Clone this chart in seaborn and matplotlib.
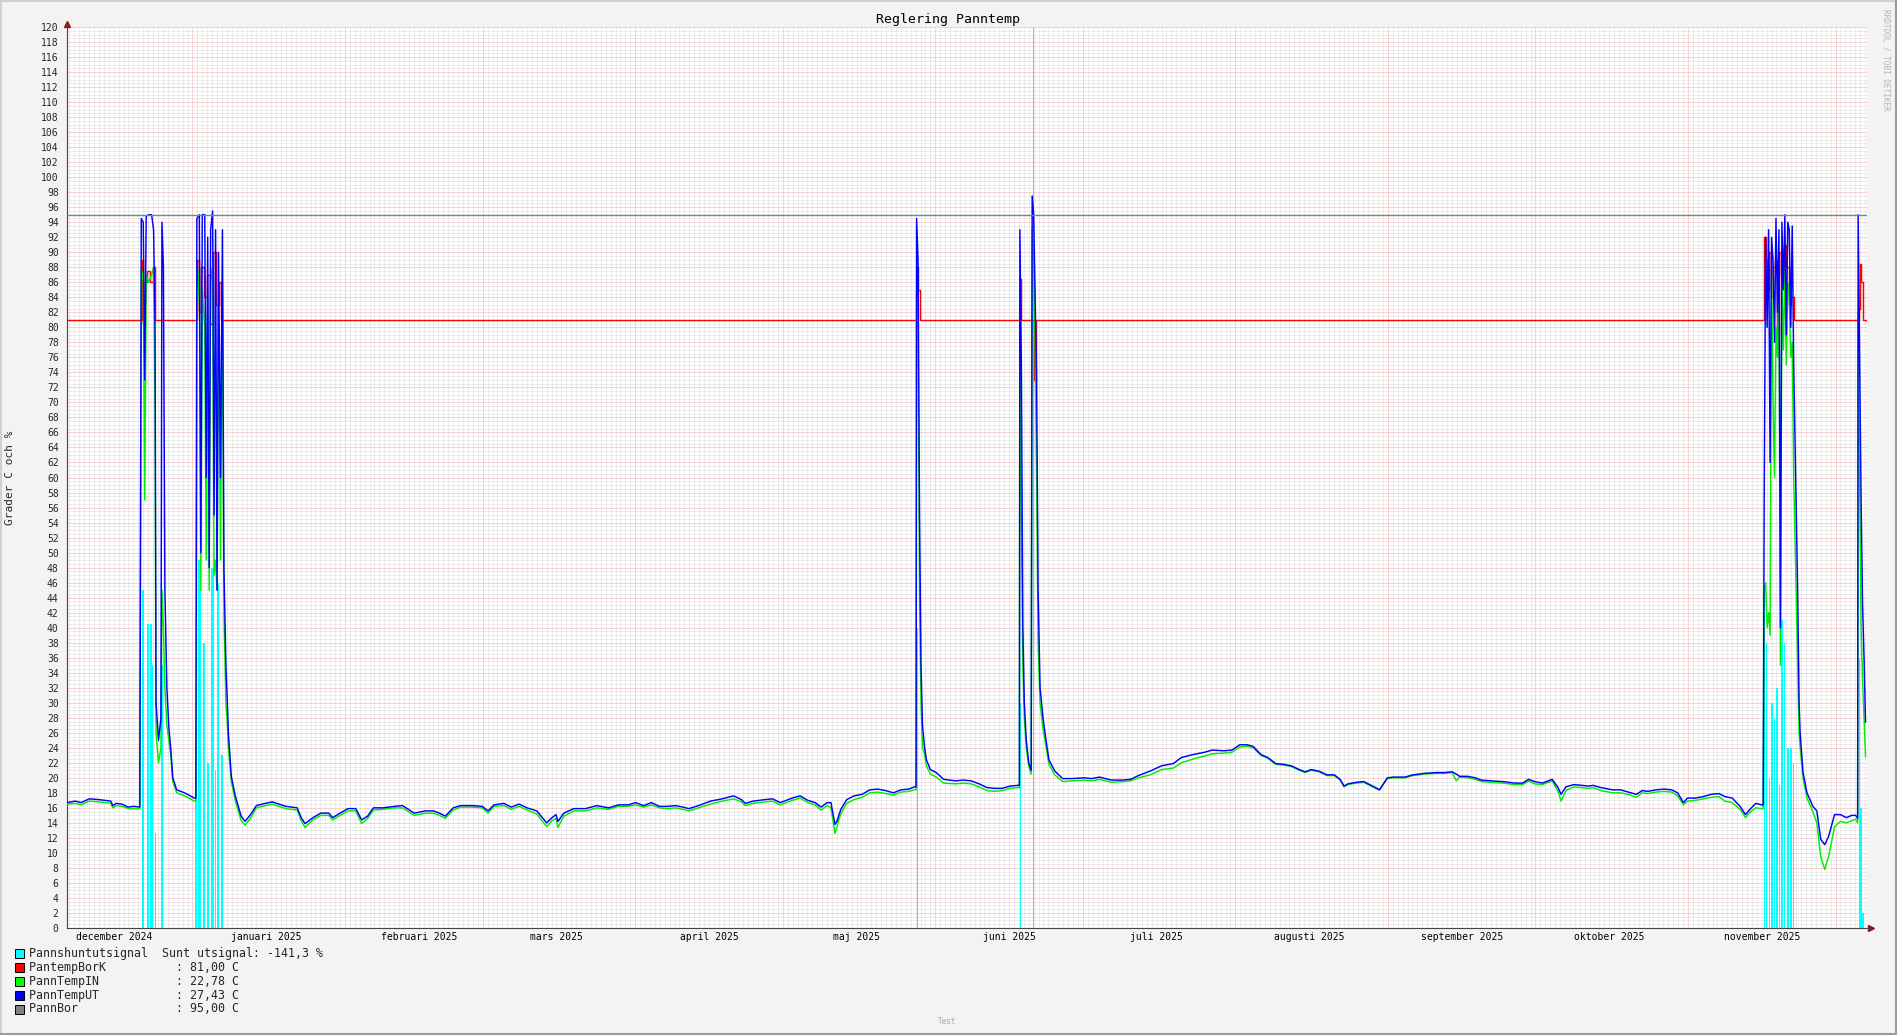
import matplotlib
matplotlib.use("Agg")
import matplotlib.pyplot as plt
import matplotlib.dates as mdates
from matplotlib.patches import Rectangle
from matplotlib.lines import Line2D
import seaborn as sns
import pandas as pd

# Reglering Panntemp - ett år, dagar räknas från start_tid
start_tid = pd.Timestamp("2024-12-06 12:00")
slut_dag = 365.9

temp_days = [
    0, 1.7, 2.9, 4.5, 6.5, 8.9, 9.3, 10.0, 11.2, 12.4, 13.6, 14.8,
    15.1, 15.5, 15.8, 16.1, 16.6, 17.2, 17.6, 17.9, 18.1, 18.6, 19.1, 19.3, 19.6, 19.9, 20.3,
    20.7, 21.1, 21.5, 22.3, 23.9, 25.9,
    26.2, 26.4, 26.9, 27.2, 27.5, 28.0, 28.3, 28.6, 28.9, 29.2, 29.6, 29.9, 30.2, 30.5, 30.8,
    31.2, 31.6, 31.9, 32.3, 32.6,
    32.8, 33.4, 34.2, 35.4, 36.2, 37.3, 38.5, 39.7, 41.7, 44.5, 46.8, 47.6, 48.4, 50.0, 51.6,
    53.2, 54.0, 55.5, 57.1, 58.7, 59.9, 61.1, 62.3, 64.2, 66.6, 68.2, 69.4, 70.6, 72.9, 74.5,
    75.7, 76.9, 78.5, 80.0, 82.4, 84.4, 85.6, 86.8, 88.8, 90.3, 91.9, 93.5, 95.5, 97.5, 98.6,
    99.4, 99.8, 101.0, 103.0, 105.4, 107.7, 110.1, 112.1, 114.1, 115.6, 117.2, 118.8, 120.4,
    122.1, 123.7, 125.2, 126.4, 128.4, 130.8, 133.2, 135.5, 137.1, 137.9, 139.5, 141.9, 143.4,
    145.0, 147.4, 149.0, 150.6, 152.1, 153.3, 154.5, 155.3, 156.1, 156.5, 157.3, 158.5, 160.0,
    161.6, 163.2, 164.8, 166.4, 168.0, 169.5, 171.1, 172.3,
    172.6, 172.7, 173.0, 173.3, 173.6, 173.9, 174.3, 174.7, 175.5, 176.7, 178.2, 180.6, 182.2,
    183.8, 185.4, 187.0, 188.5, 190.1, 191.7, 193.3,
    193.6, 193.7, 194.0, 194.3, 194.6, 195.0, 195.5, 196.0, 196.2, 196.5, 196.8, 197.1, 197.4,
    197.8, 198.4, 198.8, 199.6, 200.8, 202.4, 204.3, 206.7, 208.3, 209.9, 212.3, 214.6, 216.2,
    217.8, 220.2, 222.5, 224.9, 226.5, 228.9, 231.2, 232.8, 235.2, 236.8, 238.4, 239.9, 241.1,
    242.7, 244.1, 245.7, 247.3, 248.9, 250.5, 251.7, 252.9, 254.5, 256.1, 257.6, 258.8, 259.6,
    260.4, 262.0, 263.6, 264.8, 266.0, 266.8, 268.4, 269.6, 272.0, 273.6, 276.0, 278.4, 280.0,
    281.6, 282.4, 283.1, 284.7, 286.3, 287.5, 289.5, 291.9, 294.3, 295.9, 297.1, 298.3, 299.9,
    301.9, 303.1, 303.7, 304.7, 306.3, 307.9, 309.4, 310.2, 311.8, 314.2, 315.8, 317.4, 319.0,
    320.2, 321.4, 323.0, 324.6, 326.2, 327.4, 328.6, 329.4, 331.0, 332.6, 334.2, 335.8, 337.0,
    338.5, 340.1, 341.2, 342.1, 343.3, 344.5,
    344.8, 345.0, 345.3, 345.6, 345.9, 346.2, 346.5, 346.8, 347.1, 347.4, 347.7, 348.0, 348.3,
    348.6, 348.9, 349.2, 349.5, 349.8, 350.1, 350.4, 350.7, 351.0, 351.4, 351.8, 352.1,
    352.3, 352.9, 353.7, 354.9, 355.7, 356.5, 357.3, 358.1, 359.3, 360.5, 361.7, 362.8, 363.6,
    364.0, 364.1, 364.4, 364.7, 365.0, 365.3, 365.6,
]

pann_temp_ut = [
    16.7, 16.9, 16.7, 17.2, 17.1, 16.9, 16.3, 16.6, 16.5, 16.1, 16.2, 16.1,
    94.5, 94.0, 73.0, 94.8, 95.0, 95.0, 93.0, 80.0, 30.0, 25.0, 28.0, 94.0, 88.0, 45.0, 32.0,
    26.7, 23.8, 20.0, 18.4, 18.0, 17.3,
    17.3, 94.5, 95.0, 50.0, 95.0, 95.0, 60.0, 92.0, 48.0, 93.0, 95.5, 55.0, 93.0, 45.0, 90.0,
    60.0, 93.0, 48.0, 35.0, 30.0,
    26.0, 20.2, 17.6, 14.9, 14.2, 15.1, 16.3, 16.5, 16.8, 16.2, 16.0, 14.7, 13.9, 14.7, 15.3,
    15.3, 14.7, 15.3, 15.9, 15.9, 14.4, 14.9, 16.0, 16.0, 16.2, 16.3, 15.8, 15.3, 15.6, 15.6,
    15.3, 14.9, 16.0, 16.3, 16.3, 16.2, 15.6, 16.4, 16.6, 16.1, 16.5, 16.0, 15.6, 14.0, 14.7,
    15.1, 14.2, 15.3, 15.9, 15.9, 16.3, 16.0, 16.4, 16.4, 16.7, 16.3, 16.7, 16.2,
    16.2, 16.3, 16.1, 15.9, 16.3, 16.9, 17.2, 17.6, 17.1, 16.6, 16.9, 17.1, 17.2,
    16.7, 17.3, 17.6, 17.0, 16.7, 16.1, 16.7, 16.7, 13.8, 14.2, 15.8, 17.1, 17.6,
    17.8, 18.4, 18.5, 18.3, 18.0, 18.4, 18.5, 18.8,
    18.8, 94.5, 89.0, 55.0, 35.0, 27.0, 24.2, 22.4, 21.1, 20.7, 19.8, 19.6, 19.7,
    19.6, 19.2, 18.7, 18.6, 18.6, 18.9, 19.0,
    19.0, 93.0, 75.0, 40.0, 30.0, 25.0, 22.0, 21.0, 97.5, 95.0, 84.0, 73.0, 45.0,
    32.0, 28.0, 26.0, 22.4, 20.9, 19.9, 19.9, 20.0, 19.9, 20.1, 19.7, 19.7, 19.8,
    20.3, 20.9, 21.6, 21.9, 22.7, 23.1, 23.4, 23.7, 23.6, 23.7, 24.4, 24.4, 24.2,
    23.1, 22.7, 21.9, 21.8, 21.6, 21.1, 20.8, 21.1, 20.9, 20.4, 20.4, 19.8, 18.9,
    19.2, 19.4, 19.5, 19.1, 18.7, 18.4, 20.0, 20.1, 20.1, 20.4, 20.6, 20.7, 20.7,
    20.8, 20.5, 20.2, 20.2, 20.0, 19.7, 19.6, 19.5, 19.3, 19.3, 19.8, 19.5, 19.3,
    19.8, 18.7, 17.8, 18.8, 19.1, 19.0, 18.9, 19.0, 18.7, 18.4, 18.4, 18.1, 17.8,
    18.3, 18.2, 18.4, 18.5, 18.4, 18.0, 16.7, 17.3, 17.3, 17.5, 17.8, 17.9, 17.5,
    17.3, 16.2, 15.1, 15.8, 16.6, 16.4,
    16.4, 57.0, 92.0, 80.0, 93.0, 62.0, 92.0, 89.0, 78.0, 94.5, 82.0, 93.0, 40.0,
    94.0, 85.0, 95.0, 79.0, 94.0, 93.0, 80.0, 93.5, 75.0, 60.0, 45.0, 30.0,
    26.0, 20.7, 18.0, 16.2, 15.6, 11.8, 11.1, 12.2, 15.1, 15.1, 14.7, 15.0, 15.0,
    14.6, 95.0, 76.0, 57.0, 43.0, 36.0, 27.4,
]

pann_temp_in = [
    16.5, 16.6, 16.4, 16.9, 16.8, 16.6, 16.0, 16.3, 16.2, 15.9, 15.9, 15.9,
    88.0, 86.0, 57.0, 87.0, 86.0, 87.0, 88.0, 70.0, 26.0, 22.0, 24.0, 45.0, 40.0, 32.0, 27.0,
    25.0, 23.0, 19.5, 18.0, 17.6, 16.9,
    16.9, 82.0, 88.0, 45.0, 85.0, 80.0, 49.0, 84.0, 45.0, 88.0, 86.0, 47.0, 49.0, 45.0, 84.0,
    49.0, 86.0, 42.0, 30.0, 27.0,
    24.0, 19.5, 17.0, 14.3, 13.7, 14.6, 16.0, 16.2, 16.5, 15.9, 15.7, 14.3, 13.4, 14.4, 15.0,
    15.0, 14.4, 15.0, 15.6, 15.6, 13.9, 14.6, 15.7, 15.8, 16.0, 16.0, 15.5, 15.0, 15.3, 15.3,
    15.0, 14.6, 15.7, 16.1, 16.1, 16.0, 15.3, 16.2, 16.3, 15.8, 16.2, 15.7, 15.2, 13.5, 14.3,
    14.6, 13.4, 14.9, 15.6, 15.6, 16.0, 15.8, 16.2, 16.2, 16.4, 16.1, 16.4, 16.0,
    15.9, 16.0, 15.8, 15.6, 16.0, 16.5, 16.9, 17.2, 16.8, 16.3, 16.6, 16.8, 16.9,
    16.4, 17.0, 17.3, 16.7, 16.4, 15.7, 16.3, 16.0, 12.6, 13.5, 15.2, 16.6, 17.1,
    17.4, 18.0, 18.1, 17.9, 17.7, 18.1, 18.2, 18.4,
    18.4, 85.0, 80.0, 44.0, 30.0, 24.0, 23.2, 21.6, 20.5, 20.1, 19.3, 19.2, 19.3,
    19.2, 18.8, 18.3, 18.2, 18.3, 18.6, 18.7,
    18.7, 85.0, 55.0, 35.0, 28.0, 24.0, 21.5, 20.5, 93.0, 90.0, 78.0, 60.0, 38.0,
    30.0, 26.5, 25.0, 21.8, 20.4, 19.5, 19.6, 19.7, 19.6, 19.8, 19.4, 19.5, 19.6,
    20.0, 20.4, 21.1, 21.3, 22.0, 22.5, 22.9, 23.2, 23.3, 23.4, 24.1, 24.2, 24.0,
    23.0, 22.6, 21.8, 21.7, 21.5, 21.0, 20.7, 21.0, 20.8, 20.3, 20.3, 19.7, 18.8,
    19.1, 19.3, 19.4, 19.0, 18.6, 18.4, 19.9, 20.0, 20.0, 20.3, 20.5, 20.6, 20.6,
    20.7, 19.6, 20.1, 20.0, 19.8, 19.5, 19.4, 19.3, 19.1, 19.1, 19.6, 19.2, 19.1,
    19.6, 18.2, 16.9, 18.3, 18.8, 18.7, 18.6, 18.7, 18.3, 18.0, 18.0, 17.8, 17.4,
    18.0, 17.9, 18.1, 18.2, 18.1, 17.6, 16.4, 16.9, 17.0, 17.2, 17.4, 17.5, 16.9,
    16.7, 15.8, 14.7, 15.4, 16.0, 15.9,
    15.9, 45.0, 46.0, 40.0, 42.0, 39.0, 88.0, 70.0, 60.0, 80.0, 76.0, 85.0, 35.0,
    86.0, 77.0, 88.0, 75.0, 86.0, 84.0, 76.0, 78.0, 60.0, 48.0, 35.0, 26.0,
    24.0, 20.0, 17.3, 15.5, 14.0, 9.5, 7.8, 9.5, 13.5, 14.2, 14.0, 14.3, 14.5,
    14.0, 82.0, 60.0, 40.0, 33.0, 28.0, 22.8,
]

bork_days = [0, 15.1, 15.2, 15.5, 15.8, 16.3, 16.8, 17.5, 17.9, 26.3, 26.5, 26.8, 27.3, 27.8,
             28.4, 29.0, 29.6, 30.2, 30.8, 31.3, 172.6, 172.7, 173.0, 173.3, 193.6, 193.7, 194.0,
             196.3, 196.6, 196.9, 344.8, 345.0, 345.3, 345.6, 346.0, 346.4, 346.8, 347.2, 347.6,
             348.0, 348.5, 349.0, 349.5, 350.0, 350.5, 351.0, 364.0, 364.2, 364.4, 364.6, 365.0,
             365.9]
bork_vals = [81, 81, 89, 80.5, 86, 87.5, 86, 88, 81, 81, 89, 82, 88, 84,
             87, 80.5, 90, 83, 86, 81, 81, 88, 85, 81, 81, 86.5, 81,
             81, 73, 81, 81, 92, 89, 85, 90, 84, 88, 89, 79,
             90, 87, 91, 88, 83, 84, 81, 81, 82.5, 88.5, 86, 81,
             81]

shunt_days = [0, 15.2, 15.6, 16.3, 16.6, 16.9, 17.2, 17.4, 17.8, 18.0, 19.2, 19.6,
              26.0, 26.4, 26.6, 27.2, 27.7, 28.1, 28.5, 28.9, 29.3, 29.9, 30.0, 30.3, 30.5,
              30.8, 31.4, 31.8, 172.7, 172.9, 193.7, 193.9, 196.3, 196.5,
              345.0, 345.2, 345.4, 345.6, 345.9, 346.1, 346.4, 346.7, 347.0, 347.2, 347.5,
              347.8, 348.0, 348.2, 348.5, 348.8, 349.0, 349.3, 349.6, 350.0, 350.3, 350.6,
              350.8, 351.1, 364.3, 364.5, 364.8, 365.2]
shunt_vals = [0, 45, 0, 40.5, 0, 40.5, 35, 0, 12.6, 0, 35, 0,
              27, 0, 49, 0, 38, 0, 22, 0, 48, 0, 21, 0, 46,
              0, 23, 0, 40, 0, 30, 0, 125, 0,
              45, 0, 38, 0, 20, 0, 30, 0, 28, 0, 32,
              0, 19, 0, 41, 0, 38, 0, 24, 0, 24, 0,
              22, 0, 36, 16, 2, 0]

bor_days = [0, slut_dag]
bor_vals = [95, 95]

month_labels = ["december 2024", "januari 2025", "februari 2025", "mars 2025", "april 2025",
                "maj 2025", "juni 2025", "juli 2025", "augusti 2025", "september 2025",
                "oktober 2025", "november 2025"]

legend_rows = [
    ("#00ffff", "Pannshuntutsignal  Sunt utsignal: -141,3 %"),
    ("#ff0000", "PantempBorK          : 81,00 C"),
    ("#00ff00", "PannTempIN           : 22,78 C"),
    ("#0000ff", "PannTempUT           : 27,43 C"),
    ("#808080", "PannBor              : 95,00 C"),
]


def to_time(days):
    return start_tid + pd.to_timedelta(pd.Series(days, dtype=float), unit="D")


if __name__ == '__main__':
    sns.set_theme(style="white")
    plt.rcParams['font.family'] = ['DejaVu Sans Mono']
    mono = 'DejaVu Sans Mono'

    W, H = 1897, 1035
    fig = plt.figure(figsize=(W / 100, H / 100), dpi=100)
    fig.patch.set_facecolor('#f3f3f3')
    left, right, top, bottom = 67, 1867, 27, 928
    ax = fig.add_axes([left / W, 1 - bottom / H, (right - left) / W, (bottom - top) / H])
    ax.set_facecolor('white')

    temp = pd.DataFrame({'tid': to_time(temp_days), 'ut': pann_temp_ut, 'inn': pann_temp_in})
    bork = pd.DataFrame({'tid': to_time(bork_days), 'v': bork_vals})
    bor = pd.DataFrame({'tid': to_time(bor_days), 'v': bor_vals})
    shunt = pd.DataFrame({'tid': to_time(shunt_days), 'v': shunt_vals})

    ax.fill_between(shunt['tid'], 0, shunt['v'], step='post', color='#00ffff', linewidth=0, zorder=2)
    lw = 1.05
    sns.lineplot(data=bork, x='tid', y='v', color='#ff0000', linewidth=lw, estimator=None,
                 sort=False, drawstyle='steps-post', ax=ax, zorder=3)
    sns.lineplot(data=temp, x='tid', y='inn', color='#00ee00', linewidth=lw, estimator=None,
                 sort=False, ax=ax, zorder=4)
    sns.lineplot(data=temp, x='tid', y='ut', color='#0000ff', linewidth=lw, estimator=None,
                 sort=False, ax=ax, zorder=5)
    sns.lineplot(data=bor, x='tid', y='v', color='#7f7f7f', linewidth=1.0, estimator=None,
                 sort=False, ax=ax, zorder=6)

    x0 = start_tid
    x1 = start_tid + pd.Timedelta(days=slut_dag)
    ax.set_xlim(x0, x1)
    ax.set_ylim(0, 120)
    ax.set_xlabel('')
    ax.set_ylabel('')

    # grid: red at month starts / every 2, gray dotted per day / 0.5
    ax.xaxis.set_major_locator(mdates.MonthLocator())
    ax.xaxis.set_minor_locator(mdates.DayLocator())
    ax.xaxis.set_major_formatter(plt.NullFormatter())
    ax.set_yticks(range(0, 121, 2))
    ax.set_yticks([v * 0.5 for v in range(0, 241)], minor=True)
    ax.set_axisbelow(True)
    ax.grid(which='minor', color='#dadada', linestyle=(0, (1, 1)), linewidth=0.72)
    ax.grid(which='major', color='#f2a8a8', linestyle=(0, (1, 1)), linewidth=0.72)
    ax.tick_params(axis='y', which='major', length=2.5, width=0.7, color='#555555',
                   labelsize=7, pad=3.5)
    ax.tick_params(axis='y', which='minor', length=0)
    ax.tick_params(axis='x', which='major', length=2.5, width=0.7, color='#555555')
    ax.tick_params(axis='x', which='minor', length=0)

    for s in ['top', 'right']:
        ax.spines[s].set_visible(False)
    for s in ['left', 'bottom']:
        ax.spines[s].set_color('#444444')
        ax.spines[s].set_linewidth(0.8)

    # month labels centred mid-month
    label_pos = [pd.Timestamp(f"{d.year}-{d.month:02d}-16") for d in
                 pd.date_range('2024-12-01', periods=len(month_labels), freq='MS')]
    for pos, txt in zip(label_pos, month_labels):
        ax.text(pos, -9 / 901, txt, transform=ax.get_xaxis_transform(), ha='center',
                va='center', fontsize=7, family=mono, color='black')

    # arrows at axis ends
    ax.plot([0], [1 + 3 / 901], marker='^', markersize=4.5, color='#8b1a1a',
            transform=ax.transAxes, clip_on=False)
    ax.plot([1 + 4 / 1800], [0], marker='>', markersize=4.5, color='#8b1a1a',
            transform=ax.transAxes, clip_on=False)
    ax.plot([0, 0], [1, 1 + 3 / 901], color='#444444', lw=0.8, transform=ax.transAxes, clip_on=False)
    ax.plot([1, 1 + 3 / 1800], [0, 0], color='#444444', lw=0.8, transform=ax.transAxes, clip_on=False)

    fig.text(0.5, 1 - 19 / H, 'Reglering Panntemp', ha='center', va='center', fontsize=9.5,
             family=mono, color='black')
    fig.text(10 / W, 1 - 478 / H, 'Grader C och %', rotation=90, ha='center', va='center',
             fontsize=8, family=mono)
    fig.text(1886 / W, 1 - 60 / H, 'RRDTOOL / TOBI OETIKER', rotation=270, ha='center',
             va='center', fontsize=5.5, family=mono, color='#b4b4b4')
    fig.text(947 / W, 1 - 1022 / H, 'Test', ha='center', va='center', fontsize=5.5,
             family=mono, color='#a8a8a8')

    # legend
    for i, (col, txt) in enumerate(legend_rows):
        yc = 953 + i * 14
        fig.patches.append(Rectangle((15 / W, 1 - (yc + 4.5) / H), 9 / W, 9 / H,
                                     transform=fig.transFigure, facecolor=col,
                                     edgecolor='black', linewidth=0.7))
        fig.text(29 / W, 1 - yc / H, txt, ha='left', va='center', fontsize=8.4, family=mono)

    # 3d frame
    fig.add_artist(Line2D([0, 1], [1 - 1 / H, 1 - 1 / H], color='#d0d0d0', lw=1.5))
    fig.add_artist(Line2D([1 / W, 1 / W], [0, 1], color='#d0d0d0', lw=1.5))
    fig.add_artist(Line2D([0, 1], [1.5 / H, 1.5 / H], color='#9a9a9a', lw=2.2))
    fig.add_artist(Line2D([1 - 1.5 / W, 1 - 1.5 / W], [0, 1], color='#9a9a9a', lw=2.2))

    fig.savefig('out.png', dpi=100, facecolor=fig.get_facecolor())
